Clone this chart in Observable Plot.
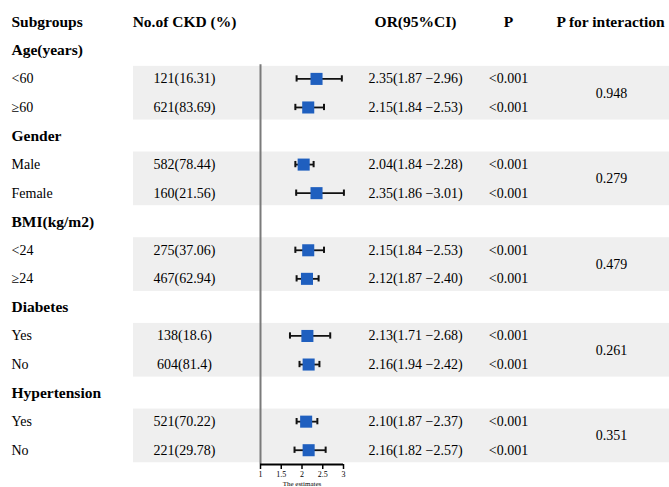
<!DOCTYPE html>
<html>
<head>
<meta charset="utf-8">
<script src="https://cdn.jsdelivr.net/npm/d3@7"></script>
<script src="https://cdn.jsdelivr.net/npm/@observablehq/plot@0.6"></script>
<style>
  html, body { margin: 0; padding: 0; background: #fff; }
</style>
</head>
<body>
<div id="chart"></div>
<script>
// ---- data ----
const columnHeaders = ["Subgroups", "No.of CKD (%)", "OR(95%CI)", "P", "P for interaction"];
const groups = ["Age(years)", "Gender", "BMI(kg/m2)", "Diabetes", "Hypertension"];
const subgroups = [["<60", "≥60"], ["Male", "Female"], ["<24", "≥24"], ["Yes", "No"], ["Yes", "No"]];
const counts = [121, 621, 582, 160, 275, 467, 138, 604, 521, 221];
const percents = [16.31, 83.69, 78.44, 21.56, 37.06, 62.94, 18.6, 81.4, 70.22, 29.78];
const oddsRatios = [2.35, 2.15, 2.04, 2.35, 2.15, 2.12, 2.13, 2.16, 2.10, 2.16];
const lowerCI = [1.87, 1.84, 1.84, 1.86, 1.84, 1.87, 1.71, 1.94, 1.87, 1.82];
const upperCI = [2.96, 2.53, 2.28, 3.01, 2.53, 2.40, 2.68, 2.42, 2.37, 2.57];
const pValues = ["<0.001", "<0.001", "<0.001", "<0.001", "<0.001", "<0.001", "<0.001", "<0.001", "<0.001", "<0.001"];
const pInteraction = ["0.948", "0.279", "0.479", "0.261", "0.351"];
const xDomain = [1, 3];
const xTicks = [1, 1.5, 2, 2.5, 3];
const xTickLabels = ["1", "1.5", "2", "2.5", "3"];
const xLabel = "The estimates";

// ---- build row tables ----
const headerRow = columnHeaders.map((t) => ({row: 0, text: t}));
const groupRows = [];
const itemRows = [];
const bandRows = [];
let r = 1;
groups.forEach((g, gi) => {
  groupRows.push({row: r, label: g});
  r++;
  const start = r;
  subgroups[gi].forEach((s, si) => {
    const k = gi * 2 + si;
    itemRows.push({
      row: r,
      label: s,
      count: `${counts[k]}(${percents[k]})`,
      or: oddsRatios[k],
      lo: lowerCI[k],
      hi: upperCI[k],
      ci: `${oddsRatios[k].toFixed(2)}(${lowerCI[k].toFixed(2)} \u2212${upperCI[k].toFixed(2)})`,
      p: pValues[k]
    });
    r++;
  });
  bandRows.push({start, end: r - 1, pint: pInteraction[gi]});
});
const nRows = r;
const yDomain = [-0.5, nRows - 0.5];

const serif = "'Liberation Serif', 'Times New Roman', serif";
const blue = "#1f5fbf";

const chart = Plot.plot({
  width: 669,
  height: 487,
  marginTop: 7,
  marginBottom: 23,
  marginLeft: 0,
  marginRight: 0,
  style: {fontFamily: serif, fontSize: "14px", background: "#fff", color: "#000"},
  x: {domain: xDomain, range: [260, 343]},
  y: {domain: yDomain, reverse: true, axis: null},
  marks: [
    // shaded subgroup bands
    Plot.rect(bandRows, {
      y1: (d) => d.start - 0.44,
      y2: (d) => d.end + 0.44,
      fill: "#efefef",
      insetLeft: 133
    }),
    // reference line at OR = 1
    Plot.ruleX([xDomain[0]], {y1: 1.5, y2: yDomain[1], stroke: "#7a7a7a", strokeWidth: 2}),
    // confidence intervals
    Plot.ruleY(itemRows, {y: "row", x1: "lo", x2: "hi", stroke: "#111", strokeWidth: 1.8}),
    Plot.ruleX(itemRows, {x: "lo", y1: (d) => d.row - 0.11, y2: (d) => d.row + 0.11, stroke: "#111", strokeWidth: 2}),
    Plot.ruleX(itemRows, {x: "hi", y1: (d) => d.row - 0.11, y2: (d) => d.row + 0.11, stroke: "#111", strokeWidth: 2}),
    // point estimates
    Plot.dot(itemRows, {x: "or", y: "row", symbol: "square", r: 6.8, fill: blue}),
    // column headers
    Plot.text([headerRow[0]], {y: "row", text: "text", frameAnchor: "left", dx: 11, textAnchor: "start", fontSize: 15.5, fontWeight: "bold"}),
    Plot.text([headerRow[1]], {y: "row", text: "text", frameAnchor: "left", dx: 184, textAnchor: "middle", fontSize: 15.5, fontWeight: "bold"}),
    Plot.text([headerRow[2]], {y: "row", text: "text", frameAnchor: "left", dx: 415, textAnchor: "middle", fontSize: 15.5, fontWeight: "bold"}),
    Plot.text([headerRow[3]], {y: "row", text: "text", frameAnchor: "left", dx: 508, textAnchor: "middle", fontSize: 15.5, fontWeight: "bold"}),
    Plot.text([headerRow[4]], {y: "row", text: "text", frameAnchor: "left", dx: 610, textAnchor: "middle", fontSize: 15.5, fontWeight: "bold"}),
    // group labels
    Plot.text(groupRows, {y: "row", text: "label", frameAnchor: "left", dx: 11, textAnchor: "start", fontSize: 15.5, fontWeight: "bold"}),
    // subgroup rows
    Plot.text(itemRows, {y: "row", text: "label", frameAnchor: "left", dx: 11, textAnchor: "start", fontSize: 14}),
    Plot.text(itemRows, {y: "row", text: "count", frameAnchor: "left", dx: 184, textAnchor: "middle", fontSize: 14}),
    Plot.text(itemRows, {y: "row", text: "ci", frameAnchor: "left", dx: 415, textAnchor: "middle", fontSize: 14}),
    Plot.text(itemRows, {y: "row", text: "p", frameAnchor: "left", dx: 508, textAnchor: "middle", fontSize: 14}),
    Plot.text(bandRows, {y: (d) => (d.start + d.end) / 2, text: "pint", frameAnchor: "left", dx: 611, textAnchor: "middle", fontSize: 14}),
    // x axis
    Plot.ruleY([yDomain[1]], {x1: xDomain[0], x2: xDomain[1], stroke: "#000", strokeWidth: 2}),
    Plot.axisX({ticks: xTicks, tickFormat: (d, i) => xTickLabels[i], tickSize: 5, tickPadding: 2, fontSize: 8, label: null, strokeWidth: 1.5}),
    Plot.text([xLabel], {x: d3.mean(xDomain), frameAnchor: "bottom", dy: 19.5, lineAnchor: "middle", fontSize: 7})
  ]
});
document.getElementById("chart").appendChild(chart);
</script>
</body>
</html>
